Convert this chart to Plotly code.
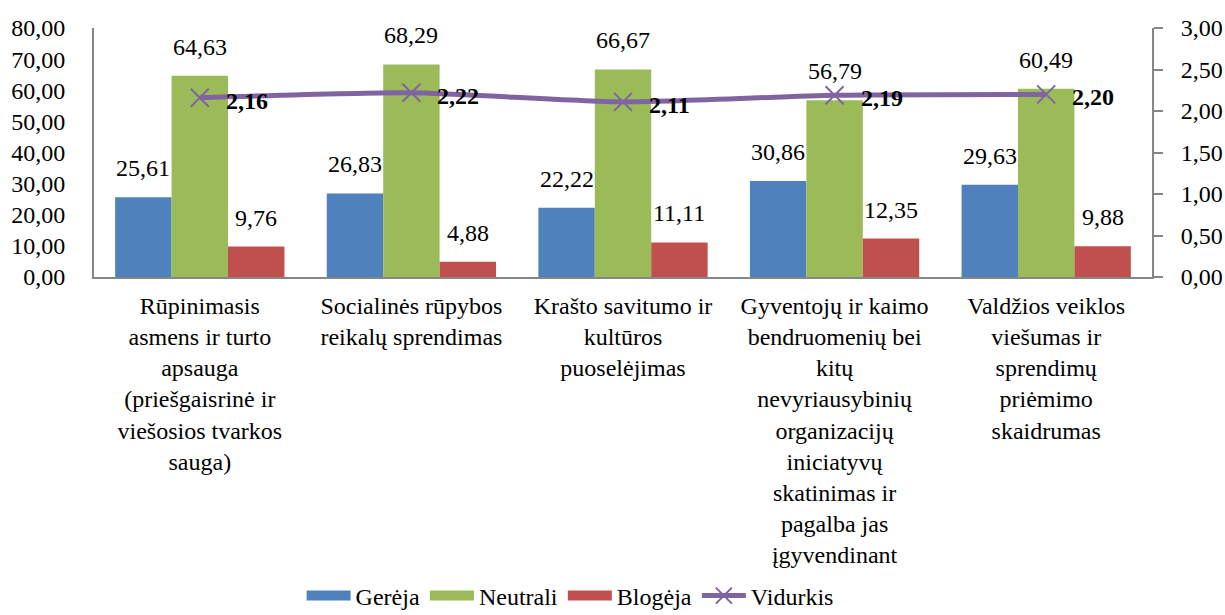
import plotly.graph_objects as go

categories = [
    "Rūpinimasis<br>asmens ir turto<br>apsauga<br>(priešgaisrinė ir<br>viešosios tvarkos<br>sauga)",
    "Socialinės rūpybos<br>reikalų sprendimas",
    "Krašto savitumo ir<br>kultūros<br>puoselėjimas",
    "Gyventojų ir kaimo<br>bendruomenių bei<br>kitų<br>nevyriausybinių<br>organizacijų<br>iniciatyvų<br>skatinimas ir<br>pagalba jas<br>įgyvendinant",
    "Valdžios veiklos<br>viešumas ir<br>sprendimų<br>priėmimo<br>skaidrumas",
]
gereja = [25.61, 26.83, 22.22, 30.86, 29.63]
neutrali = [64.63, 68.29, 66.67, 56.79, 60.49]
blogeja = [9.76, 4.88, 11.11, 12.35, 9.88]
vidurkis = [2.16, 2.22, 2.11, 2.19, 2.20]
left_ticks = [0, 10, 20, 30, 40, 50, 60, 70, 80]
right_ticks = [0, 0.5, 1.0, 1.5, 2.0, 2.5, 3.0]

BLUE = "#4F81BD"
GREEN = "#9BBB59"
RED = "#C0504D"
PURPLE = "#8064A2"
FONT = "Liberation Serif"
FS = 24

W, H = 1225, 615
ML, MR, MT, MB = 94, 73, 28, 338
BARGAP = 0.2
n = len(categories)
xs = list(range(n))
group_px = (W - ML - MR) / n
bar_px = group_px * (1 - BARGAP) / 3
plot_h = H - MT - MB


def fmt(v):
    return f"{v:.2f}".replace(".", ",")


fig = go.Figure()
series = [("Gerėja", gereja, BLUE), ("Neutrali", neutrali, GREEN), ("Blogėja", blogeja, RED)]
for name, vals, col in series:
    fig.add_trace(go.Bar(x=xs, y=vals, name=name, marker=dict(color=col, line=dict(width=0)),
                         showlegend=False))

fig.add_trace(go.Scatter(x=xs, y=vidurkis, yaxis="y2", mode="lines+markers", name="Vidurkis",
                         line=dict(color=PURPLE, width=5, shape="spline", smoothing=0.6),
                         marker=dict(symbol="x-thin", size=18, color=PURPLE,
                                     line=dict(color=PURPLE, width=2)),
                         showlegend=False, cliponaxis=False))

# legend proxies
for name, vals, col in series:
    fig.add_trace(go.Scatter(x=[None], y=[None], mode="lines", name=name,
                             line=dict(color=col, width=14)))
fig.add_trace(go.Scatter(x=[None], y=[None], mode="lines+markers", name="Vidurkis", yaxis="y2",
                         line=dict(color=PURPLE, width=5),
                         marker=dict(symbol="x-thin", size=16, color=PURPLE,
                                     line=dict(color=PURPLE, width=2))))

annotations = []
for k, (name, vals, col) in enumerate(series):
    for i, v in enumerate(vals):
        annotations.append(dict(x=xs[i], y=v, xref="x", yref="y", text=fmt(v),
                                showarrow=False, xshift=(k - 1) * bar_px, yshift=14,
                                yanchor="bottom", font=dict(family=FONT, size=FS, color="black")))
for i, v in enumerate(vidurkis):
    annotations.append(dict(x=xs[i], y=v, xref="x", yref="y2", text=f"<b>{fmt(v)}</b>",
                            showarrow=False, xshift=24, yshift=-3, xanchor="left",
                            font=dict(family=FONT, size=FS, color="black")))

fig.update_layout(
    template="none",
    width=W, height=H,
    margin=dict(l=ML, r=MR, t=MT, b=MB, autoexpand=False),
    paper_bgcolor="white", plot_bgcolor="white",
    barmode="group", bargap=BARGAP, bargroupgap=0,
    separators=", ",
    font=dict(family=FONT, size=FS, color="black"),
    annotations=annotations,
    xaxis=dict(tickmode="array", tickvals=xs, ticktext=categories, range=[-0.5, n - 0.5],
               showline=True, linecolor="#868686", linewidth=2, ticks="", showgrid=False,
               zeroline=False, tickangle=0, ticklabelstandoff=6,
               tickfont=dict(family=FONT, size=FS, color="black")),
    yaxis=dict(range=[0, 80], tickmode="array", tickvals=left_ticks, tickformat=".2f",
               showline=True, linecolor="#868686", linewidth=2, ticks="", showgrid=False,
               zeroline=False, ticklabelstandoff=22,
               tickfont=dict(family=FONT, size=FS, color="black")),
    yaxis2=dict(range=[0, 3], overlaying="y", side="right", tickmode="array",
                tickvals=right_ticks, tickformat=".2f", showline=True, linecolor="#868686",
                linewidth=2, ticks="outside", ticklen=9, tickwidth=2, tickcolor="#868686",
                showgrid=False, zeroline=False, ticklabelstandoff=13,
                tickfont=dict(family=FONT, size=FS, color="black")),
    legend=dict(orientation="h", x=0.45, xanchor="center", y=-(596 - (H - MB)) / plot_h,
                yanchor="middle",
                font=dict(family=FONT, size=FS, color="black"), itemwidth=44,
                bgcolor="rgba(0,0,0,0)", tracegroupgap=0),
)

fig.write_html(
    "out.html",
    config={"displayModeBar": False},
    post_script="document.body.style.margin='0';document.body.style.overflow='hidden';",
)
